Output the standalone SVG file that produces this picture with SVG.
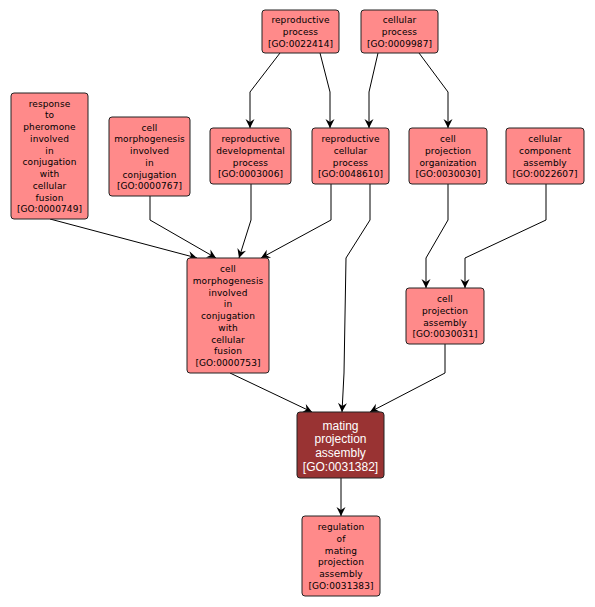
<svg xmlns="http://www.w3.org/2000/svg" width="595" height="607" viewBox="0 0 595 607">
<style>
.n rect{fill:#ff8a8a;stroke:#222;stroke-width:1}
.d rect{fill:#993333;stroke:#222;stroke-width:1}
.n text{font-family:"DejaVu Sans",sans-serif;font-size:9px;fill:#000;text-anchor:middle;letter-spacing:0.1px}
.d text{font-family:"Liberation Sans",Arial,sans-serif;font-size:12px;fill:#fff;text-anchor:middle}
#edges path{fill:none;stroke:#000;stroke-width:1;marker-end:url(#arr)}
</style>
<defs>
<marker id="arr" markerUnits="userSpaceOnUse" viewBox="-1 -6 11 12" refX="9" refY="0" markerWidth="11" markerHeight="12" orient="auto">
<path d="M0,-4.5 L9,0 L0,4.5 L3,0 Z" fill="#000"/>
</marker>
</defs>
<rect width="595" height="607" fill="#fff"/>
<g id="edges">
<path d="M280,53 L250,92 L250,128"/>
<path d="M320,53 L330,92 L330,128"/>
<path d="M378,53 L369,92 L369,128"/>
<path d="M419,53 L448,92 L448,128"/>
<path d="M50,219 L197,258"/>
<path d="M150,196 L150,220 L216,258"/>
<path d="M251,184 L251,220 L239,258"/>
<path d="M331,184 L331,220 L261,258"/>
<path d="M370,184 L370,220 L346,258 L344,373 L342,412"/>
<path d="M448,184 L448,220 L426,258 L426,288"/>
<path d="M546,184 L546,220 L465,258 L465,288"/>
<path d="M230,373 L312,412"/>
<path d="M445,344 L445,373 L370,412"/>
<path d="M341,478 L341,516"/>
</g>
<g id="GO0022414" class="n">
<rect x="262" y="10" width="77" height="43" rx="3"/>
<text x="300.5" y="23.3">reproductive</text>
<text x="300.5" y="35">process</text>
<text x="300.5" y="46.8">[GO:0022414]</text>
</g>
<g id="GO0009987" class="n">
<rect x="361" y="10" width="77" height="43" rx="3"/>
<text x="399.5" y="23.3">cellular</text>
<text x="399.5" y="35">process</text>
<text x="399.5" y="46.8">[GO:0009987]</text>
</g>
<g id="GO0000749" class="n">
<rect x="11" y="93" width="77" height="126" rx="3"/>
<text x="49.5" y="106.6">response</text>
<text x="49.5" y="118.4">to</text>
<text x="49.5" y="130.1">pheromone</text>
<text x="49.5" y="141.9">involved</text>
<text x="49.5" y="153.6">in</text>
<text x="49.5" y="165.4">conjugation</text>
<text x="49.5" y="177.1">with</text>
<text x="49.5" y="188.9">cellular</text>
<text x="49.5" y="200.6">fusion</text>
<text x="49.5" y="212.4">[GO:0000749]</text>
</g>
<g id="GO0000767" class="n">
<rect x="109" y="117" width="81" height="79" rx="3"/>
<text x="149.5" y="130.6">cell</text>
<text x="149.5" y="142.4">morphogenesis</text>
<text x="149.5" y="154.1">involved</text>
<text x="149.5" y="165.9">in</text>
<text x="149.5" y="177.6">conjugation</text>
<text x="149.5" y="189.4">[GO:0000767]</text>
</g>
<g id="GO0003006" class="n">
<rect x="210" y="128" width="81" height="56" rx="3"/>
<text x="250.5" y="142">reproductive</text>
<text x="250.5" y="153.7">developmental</text>
<text x="250.5" y="165.5">process</text>
<text x="250.5" y="177.2">[GO:0003006]</text>
</g>
<g id="GO0048610" class="n">
<rect x="312" y="128" width="77" height="56" rx="3"/>
<text x="350.5" y="142">reproductive</text>
<text x="350.5" y="153.7">cellular</text>
<text x="350.5" y="165.5">process</text>
<text x="350.5" y="177.2">[GO:0048610]</text>
</g>
<g id="GO0030030" class="n">
<rect x="409" y="128" width="78" height="56" rx="3"/>
<text x="448" y="142">cell</text>
<text x="448" y="153.7">projection</text>
<text x="448" y="165.5">organization</text>
<text x="448" y="177.2">[GO:0030030]</text>
</g>
<g id="GO0022607" class="n">
<rect x="506" y="128" width="78" height="56" rx="3"/>
<text x="545" y="142">cellular</text>
<text x="545" y="153.7">component</text>
<text x="545" y="165.5">assembly</text>
<text x="545" y="177.2">[GO:0022607]</text>
</g>
<g id="GO0000753" class="n">
<rect x="187" y="258" width="82" height="115" rx="3"/>
<text x="228" y="272">cell</text>
<text x="228" y="283.8">morphogenesis</text>
<text x="228" y="295.5">involved</text>
<text x="228" y="307.3">in</text>
<text x="228" y="319">conjugation</text>
<text x="228" y="330.8">with</text>
<text x="228" y="342.5">cellular</text>
<text x="228" y="354.3">fusion</text>
<text x="228" y="366">[GO:0000753]</text>
</g>
<g id="GO0030031" class="n">
<rect x="406" y="288" width="78" height="56" rx="3"/>
<text x="445" y="302">cell</text>
<text x="445" y="313.7">projection</text>
<text x="445" y="325.5">assembly</text>
<text x="445" y="337.2">[GO:0030031]</text>
</g>
<g id="GO0031382" class="d">
<rect x="297" y="412" width="87" height="66" rx="3"/>
<text x="340.5" y="429.5">mating</text>
<text x="340.5" y="443.4">projection</text>
<text x="340.5" y="457.3">assembly</text>
<text x="340.5" y="471.2">[GO:0031382]</text>
</g>
<g id="GO0031383" class="n">
<rect x="302" y="516" width="78" height="80" rx="3"/>
<text x="341" y="530.1">regulation</text>
<text x="341" y="541.9">of</text>
<text x="341" y="553.6">mating</text>
<text x="341" y="565.4">projection</text>
<text x="341" y="577.1">assembly</text>
<text x="341" y="588.9">[GO:0031383]</text>
</g>
</svg>
